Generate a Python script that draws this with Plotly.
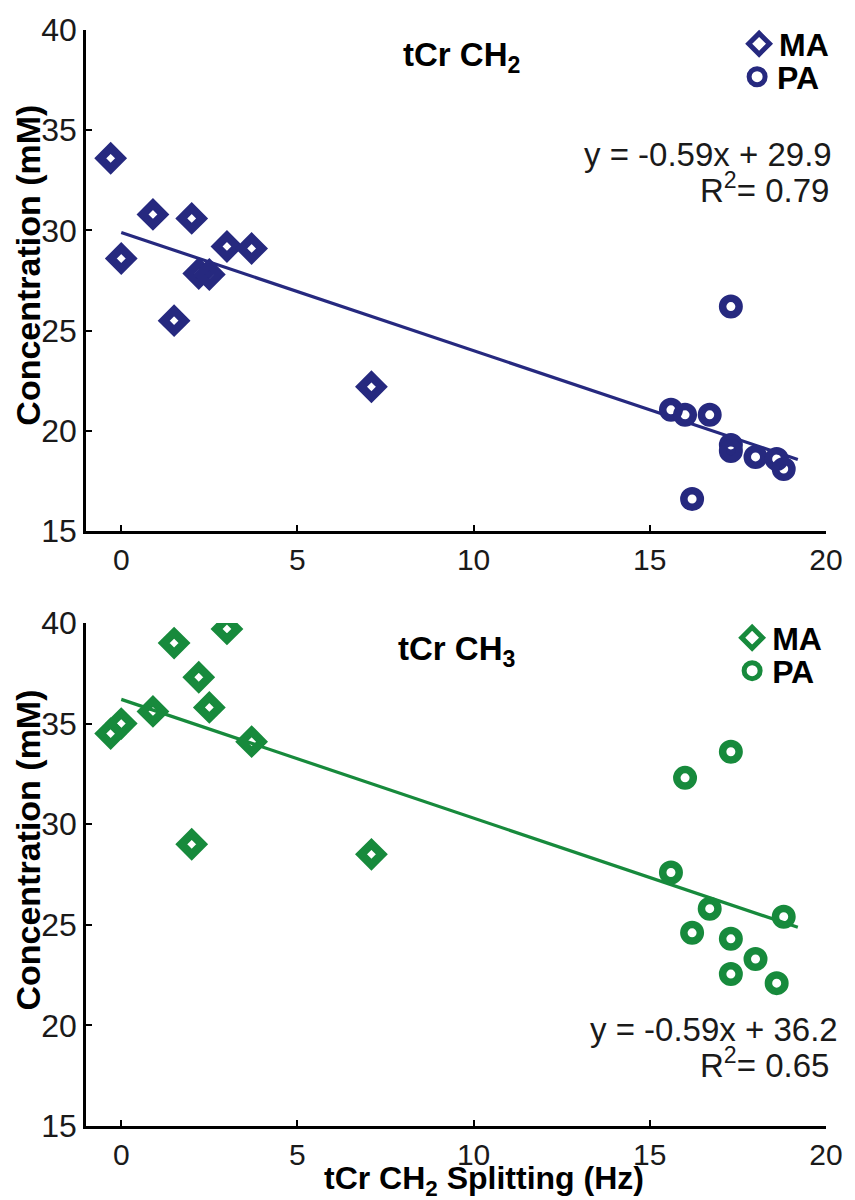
import plotly.graph_objects as go

# ---------------- data ----------------
ma_splitting = [-0.3, 0.0, 0.9, 1.5, 2.0, 2.2, 2.5, 3.0, 3.7, 7.1]
pa_splitting = [15.6, 16.0, 16.2, 16.7, 17.3, 17.3, 17.3, 18.0, 18.6, 18.8]

ch2_ma = [33.6, 28.6, 30.8, 25.5, 30.6, 27.85, 27.8, 29.2, 29.1, 22.2]
ch2_pa = [21.05, 20.8, 16.6, 20.8, 26.2, 19.3, 19.0, 18.7, 18.6, 18.1]

ch3_ma = [34.5, 35.0, 35.6, 39.0, 29.0, 37.3, 35.8, 39.7, 34.1, 28.5]
ch3_pa = [27.6, 32.3, 24.6, 25.8, 33.6, 24.3, 22.55, 23.3, 22.1, 25.4]

fit_slope = [-0.59, -0.59]          # CH2, CH3
fit_intercept = [29.9, 36.2]        # CH2, CH3
fit_r2 = [0.79, 0.65]
fit_x_range = [0.0, 19.2]

x_ticks = [0, 5, 10, 15, 20]
y_ticks = [15, 20, 25, 30, 35, 40]
panel_titles = ["tCr CH<sub>2</sub>", "tCr CH<sub>3</sub>"]
x_title = "tCr CH<sub>2</sub> Splitting (Hz)"
y_title = "Concentration (mM)"

# ---------------- style ----------------
NAVY = "#26297f"
GREEN = "#178a3c"
FONT = "Liberation Sans, Arial, sans-serif"
W, H = 855, 1200
ML, MR, MT, MB = 86, 28, 28, 74
PW, PH = W - ML - MR, H - MT - MB


def px_x(p):
    return (p - ML) / PW


def px_y(p):
    return (H - MB - p) / PH


fig = go.Figure()

panels = [
    dict(ma=ch2_ma, pa=ch2_pa, color=NAVY, xa="x", ya="y", lg=("legend", "legend2")),
    dict(ma=ch3_ma, pa=ch3_pa, color=GREEN, xa="x2", ya="y2", lg=("legend3", "legend4")),
]

for i, p in enumerate(panels):
    x0, x1 = fit_x_range
    fig.add_trace(go.Scatter(
        x=[x0, x1],
        y=[fit_slope[i] * x0 + fit_intercept[i], fit_slope[i] * x1 + fit_intercept[i]],
        mode="lines", line=dict(color=p["color"], width=3.2),
        xaxis=p["xa"], yaxis=p["ya"], showlegend=False, hoverinfo="skip"))
    fig.add_trace(go.Scatter(
        x=ma_splitting, y=p["ma"], mode="markers", name="MA",
        marker=dict(symbol="diamond-open", size=16, color=p["color"],
                    line=dict(color=p["color"], width=8.5)),
        xaxis=p["xa"], yaxis=p["ya"], legend=p["lg"][0], showlegend=True))
    fig.add_trace(go.Scatter(
        x=pa_splitting, y=p["pa"], mode="markers", name="PA",
        marker=dict(symbol="circle-open", size=16.5, color=p["color"],
                    line=dict(color=p["color"], width=7.5)),
        xaxis=p["xa"], yaxis=p["ya"], legend=p["lg"][1], showlegend=True))

axis_common = dict(
    showline=True, linecolor="black", linewidth=2.5, mirror=False,
    ticks="inside", ticklen=6, tickwidth=2, tickcolor="black",
    showgrid=False, zeroline=False,
)
x_font = dict(tickfont=dict(family=FONT, size=30, color="#1a1a1a"))
y_font = dict(tickfont=dict(family=FONT, size=32, color="#1a1a1a"))

top_dom = [px_y(530), 1.0]
bot_dom = [0.0, px_y(622)]

fig.update_layout(
    width=W, height=H,
    margin=dict(l=ML, r=MR, t=MT, b=MB),
    paper_bgcolor="white", plot_bgcolor="white",
    xaxis=dict(domain=[0, 1], range=[-1, 20], tickvals=x_ticks, anchor="y", **axis_common, **x_font),
    yaxis=dict(domain=top_dom, range=[15, 40], tickvals=y_ticks, anchor="x", **axis_common, **y_font),
    xaxis2=dict(domain=[0, 1], range=[-1, 20], tickvals=x_ticks, anchor="y2", **axis_common, **x_font),
    yaxis2=dict(domain=bot_dom, range=[15, 40], tickvals=y_ticks, anchor="x2", **axis_common, **y_font),
)

leg_font = dict(family=FONT, size=32, color="black", weight="bold")
leg_pos = {
    "legend": (740, 42),
    "legend2": (738, 75),
    "legend3": (733, 637),
    "legend4": (733, 670),
}
for name, (lx, ly) in leg_pos.items():
    fig.update_layout({name: dict(
        x=px_x(lx), y=px_y(ly), xanchor="left", yanchor="middle",
        bgcolor="rgba(0,0,0,0)", borderwidth=0, font=leg_font,
        itemwidth=30, itemclick=False, itemdoubleclick=False)})

ann = []
# panel titles
ann.append(dict(text="<b>%s</b>" % panel_titles[0], x=px_x(462), y=px_y(55)))
ann.append(dict(text="<b>%s</b>" % panel_titles[1], x=px_x(458), y=px_y(650)))
for a in ann:
    a.update(xref="paper", yref="paper", showarrow=False, xanchor="center", yanchor="middle",
             font=dict(family=FONT, size=33, color="black"))

# equations
eq_pos = [((835, 153), (832, 186)), ((841, 1029), (832, 1063))]
for i, ((ex1, ey1), (ex2, ey2)) in enumerate(eq_pos):
    ann.append(dict(text="y = %.2fx + %.1f" % (fit_slope[i], fit_intercept[i]),
                    x=px_x(ex1), y=px_y(ey1)))
    ann.append(dict(text="R<sup>2</sup>= %.2f" % fit_r2[i], x=px_x(ex2), y=px_y(ey2)))
for a in ann[2:]:
    a.update(xref="paper", yref="paper", showarrow=False, xanchor="right", yanchor="middle",
             font=dict(family=FONT, size=33, color="#1a1a1a"))

# axis titles
for yc in (264, 850):
    ann.append(dict(text="<b>%s</b>" % y_title, x=px_x(27), y=px_y(yc), textangle=-90,
                    xref="paper", yref="paper", showarrow=False, xanchor="center",
                    yanchor="middle", font=dict(family=FONT, size=34, color="black")))
ann.append(dict(text="<b>%s</b>" % x_title, x=px_x(485), y=px_y(1181),
                xref="paper", yref="paper", showarrow=False, xanchor="center",
                yanchor="middle", font=dict(family=FONT, size=32, color="black")))

fig.update_layout(annotations=ann)
fig.write_html(
    "out.html",
    config={"displayModeBar": False},
    post_script="document.body.style.margin='0';document.body.style.padding='0';",
)
